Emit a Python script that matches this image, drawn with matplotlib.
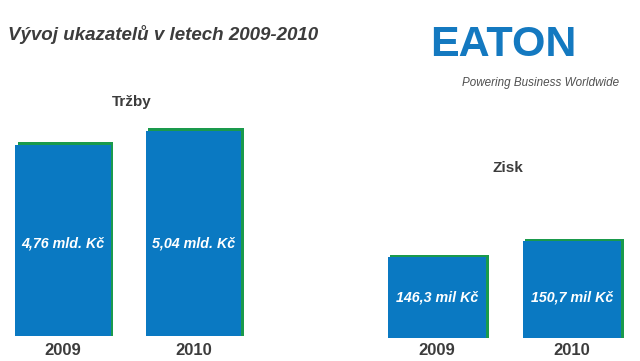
import matplotlib
matplotlib.use("Agg")
from matplotlib import pyplot as plt
from matplotlib import patheffects as pe

years = ["2009", "2010"]
trzby = [4.76, 5.04]
trzby_labels = ["4,76 mld. Kč", "5,04 mld. Kč"]
zisk = [146.3, 150.7]
zisk_labels = ["146,3 mil Kč", "150,7 mil Kč"]

blue = "#0a79c2"
green = "#1a9a4c"
grey = "#3c3c3c"

W, H = 640, 361
plt.rcParams['font.family'] = ['Liberation Sans', 'DejaVu Sans']

fig = plt.figure(figsize=(W / 100, H / 100), dpi=100)


def px(x, y):
    # pixel coords from top-left -> figure fraction
    return x / W, 1 - y / H


def box(left, top, right, bottom):
    return [left / W, 1 - bottom / H, (right - left) / W, (bottom - top) / H]


def bars(ax, values, labels, ylim, xlim, label_y, pad):
    ax.bar(range(len(values)), values, width=0.73, bottom=0, color=blue,
           path_effects=[pe.SimplePatchShadow(offset=(1.8, 1.8), shadow_rgbFace=green, alpha=1),
                         pe.Normal()])
    ax.set_ylim(*ylim)
    ax.set_xlim(*xlim)
    for i, lab in enumerate(labels):
        ax.text(i, label_y, lab, transform=ax.get_xaxis_transform(), ha='center', va='center',
                color='white', fontsize=10.3, fontweight='bold', fontstyle='italic')
    ax.set_xticks(range(len(values)))
    ax.set_xticklabels(years, fontsize=12, fontweight='bold', color=grey)
    ax.tick_params(axis='x', length=0, pad=pad)
    ax.set_yticks([])
    for s in ax.spines.values():
        s.set_visible(False)
    ax.patch.set_visible(False)


# Tržby
ax1 = fig.add_axes(box(0, 116, 256, 336))
bars(ax1, trzby, trzby_labels, (1.0, 1.0 + 220 / 50.8), (-63 / 130.5, 193 / 130.5), 93 / 220, 5)

# Zisk
ax2 = fig.add_axes(box(370, 208, 640, 338))
bars(ax2, zisk, zisk_labels, (124, 124 + 130 / 3.63), (-67 / 135, 203 / 135), 41 / 130, 3.6)

fig.text(*px(8, 34), "Vývoj ukazatelů v letech 2009-2010", fontsize=13.5, fontweight='bold',
         fontstyle='italic', color=grey, ha='left', va='center')
fig.text(*px(132, 102), "Tržby", fontsize=11, fontweight='bold', color=grey, ha='center', va='center')
fig.text(*px(508, 168), "Zisk", fontsize=11, fontweight='bold', color=grey, ha='center', va='center')

# logo
fig.text(*px(503, 45), "EATON", fontsize=31, fontweight='bold', color="#1479c0",
         ha='center', va='center')
fig.text(*px(541, 83), "Powering Business Worldwide", fontsize=8.4,
         fontstyle='italic', color="#505050", ha='center', va='center')

fig.savefig("out.png", dpi=100)
